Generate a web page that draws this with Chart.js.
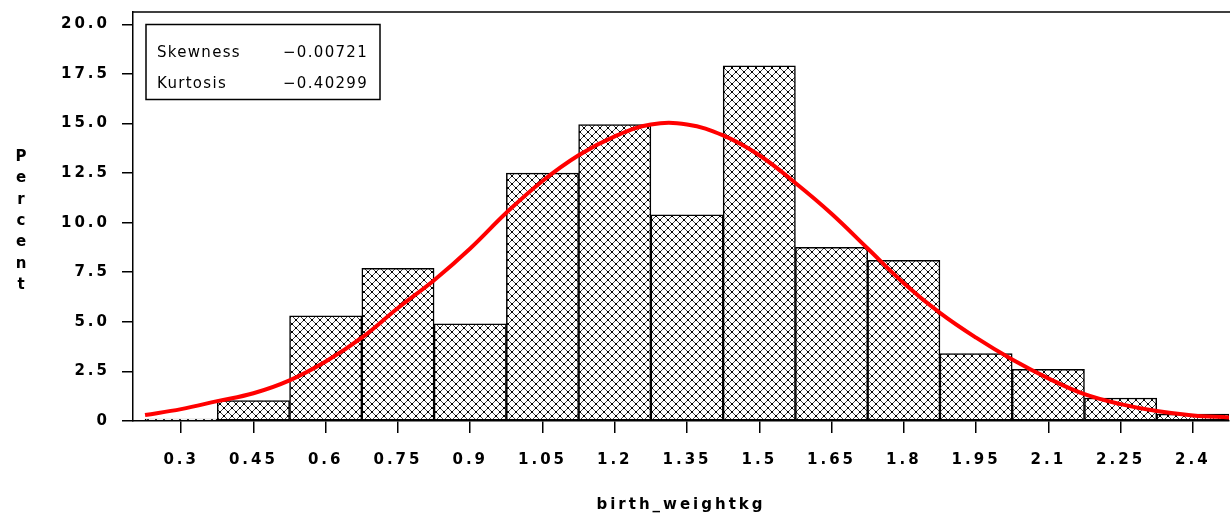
<!DOCTYPE html>
<html><head><meta charset="utf-8">
<script src="https://cdn.jsdelivr.net/npm/chart.js@4.4.1/dist/chart.umd.min.js"></script>
<style>html,body{margin:0;padding:0;background:#fff;overflow:hidden}#wrap{width:1230px;height:517px;position:relative}</style>
</head><body><div id="wrap"><canvas id="c"></canvas></div>
<script>
const binCenters = [0.3,0.45,0.6,0.75,0.9,1.05,1.2,1.35,1.5,1.65,1.8,1.95,2.1,2.25,2.4];
const binPercents = [0.1,1.03,5.3,7.7,4.9,12.5,14.95,10.4,17.9,8.75,8.1,3.4,2.6,1.16,0.35];
const xTickLabels = ['0.3','0.45','0.6','0.75','0.9','1.05','1.2','1.35','1.5','1.65','1.8','1.95','2.1','2.25','2.4'];
const curveX = [0.225,0.3,0.375,0.45,0.525,0.6,0.675,0.75,0.825,0.9,0.975,1.05,1.125,1.2,1.275,1.35,1.425,1.5,1.575,1.65,1.725,1.8,1.875,1.95,2.025,2.1,2.175,2.25,2.325,2.4,2.475];
const curveY = [0.3,0.6,1.0,1.4,2.05,3.0,4.2,5.7,7.1,8.7,10.5,12.1,13.4,14.35,14.95,14.95,14.4,13.4,12.0,10.45,8.7,6.95,5.45,4.2,3.1,2.15,1.35,0.85,0.5,0.28,0.18];
const yTickValues = [0,2.5,5,7.5,10,12.5,15,17.5,20];
const yTickLabels = ['0','2.5','5.0','7.5','10.0','12.5','15.0','17.5','20.0'];
const statNames = ['Skewness','Kurtosis'];
const statValues = ['\u22120.00721','\u22120.40299'];
const xTitle = 'birth_weightkg';
const yTitle = 'Percent';

// crosshatch pattern
const pc = document.createElement('canvas');
pc.width = 8; pc.height = 8;
const p = pc.getContext('2d');
p.fillStyle = '#fff'; p.fillRect(0,0,8,8);
p.strokeStyle = '#444'; p.lineWidth = 1;
p.beginPath(); p.moveTo(-1,-1); p.lineTo(9,9); p.moveTo(9,-1); p.lineTo(-1,9); p.stroke();
p.fillStyle = '#000';
p.fillRect(3,3,2,2); p.fillRect(0,0,1,1); p.fillRect(7,0,1,1); p.fillRect(0,7,1,1); p.fillRect(7,7,1,1);
const ctx0 = document.getElementById('c').getContext('2d');
const hatch = ctx0.createPattern(pc, 'repeat');

const tickFont = {family:'DejaVu Sans', weight:'bold', size:15};

const decor = {
  id:'decor',
  beforeDraw(chart){ chart.ctx.letterSpacing = '3px'; },
  afterDraw(chart){
    const ctx = chart.ctx, a = chart.chartArea;
    ctx.save();
    ctx.strokeStyle = '#000'; ctx.lineWidth = 1.5;
    ctx.beginPath(); ctx.moveTo(a.left, a.top); ctx.lineTo(chart.width, a.top); ctx.stroke();
    ctx.letterSpacing = '0px';
    ctx.fillStyle = '#000';
    ctx.font = 'bold 15px "DejaVu Sans"';
    ctx.textAlign = 'center'; ctx.textBaseline = 'middle';
    for (let i = 0; i < yTitle.length; i++) ctx.fillText(yTitle[i], 21, 157 + i*21.4);
    ctx.lineWidth = 1.5;
    ctx.strokeRect(146, 24.5, 234, 75);
    ctx.font = '15px "DejaVu Sans"';
    ctx.letterSpacing = '1.3px';
    for (let i = 0; i < statNames.length; i++) {
      const y = 53.5 + i*31;
      ctx.textAlign = 'left'; ctx.fillText(statNames[i], 157, y);
      ctx.textAlign = 'right'; ctx.fillText(statValues[i], 368, y);
    }
    ctx.restore();
  }
};

new Chart(ctx0, {
  data: {
    datasets: [
      {type:'line', order:0, data: curveX.map((x,i)=>({x, y:curveY[i]})),
       borderColor:'#ff0000', borderWidth:4, pointRadius:0, tension:0.4, fill:false},
      {type:'bar', order:1, data: binCenters.map((x,i)=>({x, y:binPercents[i]})),
       backgroundColor: hatch, borderColor:'#000', borderWidth:1.5, borderSkipped:false,
       barPercentage:1, categoryPercentage:1}
    ]
  },
  options: {
    responsive:true, maintainAspectRatio:false, animation:false,
    layout:{padding:{top:12, right:1, left:0, bottom:0}},
    plugins:{legend:{display:false}, tooltip:{enabled:false}},
    scales:{
      x:{type:'linear', min:0.2, max:2.475, offset:false,
         afterBuildTicks(s){ s.ticks = binCenters.map(v=>({value:v})); },
         afterFit(s){ s.height = 96; s.paddingLeft = 0; s.paddingRight = 0; },
         ticks:{autoSkip:false, maxRotation:0, padding:18, color:'#000', font:tickFont,
                callback:(v,i)=>xTickLabels[i]},
         grid:{offset:false, drawOnChartArea:false, drawTicks:true, tickLength:12, color:'#000', lineWidth:1.5},
         border:{display:true, color:'#000', width:1.5},
         title:{display:true, text:xTitle, color:'#000', font:tickFont, padding:{top:0,bottom:3}}
      },
      y:{type:'linear', min:0, max:20.62,
         afterBuildTicks(s){ s.ticks = yTickValues.map(v=>({value:v})); },
         afterFit(s){ s.width = 133; s.paddingTop = 0; s.paddingBottom = 0; },
         ticks:{padding:12, color:'#000', font:tickFont, callback:(v,i)=>yTickLabels[i]},
         grid:{drawOnChartArea:false, drawTicks:true, tickLength:11, color:'#000', lineWidth:1.5},
         border:{display:true, color:'#000', width:1.5}
      }
    }
  },
  plugins:[decor]
});
</script></body></html>
